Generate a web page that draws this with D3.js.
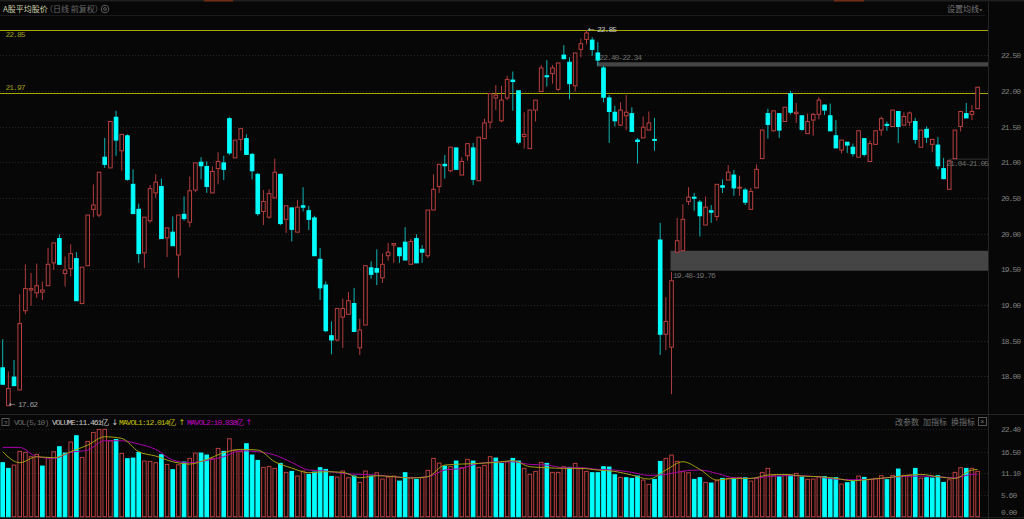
<!DOCTYPE html>
<html>
<head>
<meta charset="utf-8">
<script src="https://cdn.jsdelivr.net/npm/d3@7"></script>
<style>
html, body { margin: 0; padding: 0; background: #070707; overflow: hidden; }
text { font-family: "Liberation Mono", monospace; font-size: 8px; letter-spacing: -1px; }
.cjk { font-family: "Noto Sans CJK SC", sans-serif; font-size: 8px; letter-spacing: 0; }
.arrow { font-family: "DejaVu Sans", sans-serif; font-size: 8px; letter-spacing: 0; }
</style>
</head>
<body>
<div id="chart"></div>
<script>
var width = 1024;
var height = 519;

var opens = [
    18.12,17.59,17.99,17.81,18.92,19.21,19.17,19.18,19.27,19.59,
    19.93,19.44,19.51,19.65,19.02,19.55,20.34,20.26,21.07,20.92,
    21.63,21.16,21.37,20.69,20.34,19.73,20.18,20.57,20.66,19.94,
    20.02,19.70,20.27,20.16,20.61,21.00,20.94,20.57,20.91,20.99,
    21.61,21.06,21.32,21.33,21.11,20.83,20.31,20.23,20.50,20.83,
    20.20,20.36,20.02,20.39,20.32,20.22,19.64,19.28,18.57,18.51,
    18.83,18.87,19.02,18.40,18.72,19.52,19.51,19.38,19.69,19.84,
    19.80,19.88,19.57,19.93,19.78,19.69,20.33,20.66,20.97,20.88,
    21.20,20.82,21.09,21.20,20.74,21.33,21.56,21.90,21.58,21.90,
    22.15,22.00,21.36,21.19,21.73,21.99,22.21,22.24,22.02,22.50,
    22.40,22.07,22.58,22.72,22.71,22.53,22.32,21.90,21.70,21.52,
    21.65,21.68,21.31,21.34,21.45,21.32,19.91,18.59,18.41,19.74,
    19.76,20.45,20.51,20.44,20.12,20.32,20.24,20.67,20.75,20.82,
    20.64,20.61,20.34,20.64,21.05,21.68,21.44,21.68,21.57,21.96,
    21.68,21.65,21.40,21.59,21.67,21.80,21.65,21.37,21.17,21.28,
    21.21,21.07,21.33,21.01,21.25,21.45,21.53,21.50,21.71,21.52,
    21.56,21.57,21.21,21.46,21.25,21.24,20.91,20.62,21.05,21.50,
    21.68,21.67,21.75
];
var closes = [
    17.89,17.83,17.87,18.74,19.23,19.23,19.27,19.21,19.57,19.87,
    19.57,19.49,19.72,19.06,19.53,20.26,20.40,20.86,20.97,21.57,
    21.31,21.39,20.76,20.28,19.72,20.23,20.63,20.72,19.93,20.08,
    19.83,20.26,20.21,20.60,20.99,20.95,20.66,20.87,21.01,20.90,
    21.13,21.31,21.47,21.11,20.88,20.28,20.45,20.56,20.86,20.14,
    20.39,20.06,20.37,20.37,20.20,19.69,19.24,18.64,18.51,18.95,
    18.95,19.06,18.63,18.65,19.55,19.43,19.46,19.57,19.74,19.86,
    19.69,19.63,19.89,19.59,19.74,20.33,20.62,20.97,20.95,21.21,
    20.90,21.01,21.26,20.76,21.35,21.55,21.96,21.94,21.87,22.16,
    22.13,21.28,21.39,21.73,21.87,22.32,22.20,22.32,22.39,22.45,
    22.10,22.53,22.66,22.81,22.58,22.43,21.91,21.71,21.58,21.73,
    21.70,21.43,21.29,21.49,21.55,21.31,18.59,18.77,19.34,19.90,
    20.20,20.51,20.50,20.25,20.37,20.30,20.69,20.65,20.86,20.64,
    20.65,20.44,20.59,20.90,21.45,21.53,21.72,21.45,21.77,21.70,
    21.70,21.46,21.57,21.67,21.87,21.73,21.44,21.20,21.31,21.24,
    21.12,21.44,21.11,21.26,21.44,21.61,21.52,21.73,21.50,21.64,
    21.69,21.32,21.45,21.35,21.32,20.95,20.77,21.02,21.45,21.71,
    21.62,21.71,22.05
];
var highs = [
    18.52,18.07,18.23,19.15,19.57,19.45,19.58,19.33,19.80,19.87,
    19.99,19.68,19.85,19.74,19.53,20.26,20.69,20.86,21.34,21.57,
    21.72,21.39,21.39,20.90,20.42,20.23,20.68,20.83,20.77,20.08,
    20.24,20.26,20.52,20.80,20.99,21.07,21.01,20.94,21.14,21.09,
    21.63,21.31,21.47,21.39,21.13,20.85,20.61,20.62,21.05,20.84,
    20.39,20.36,20.47,20.65,20.39,20.25,19.80,19.33,18.77,18.95,
    19.09,19.18,19.24,18.81,19.55,19.61,19.78,19.72,19.87,19.86,
    19.80,20.09,19.92,19.99,19.84,20.33,20.83,20.97,21.10,21.21,
    21.20,21.07,21.26,21.27,21.35,21.61,21.96,22.08,22.07,22.21,
    22.27,22.00,21.70,21.73,21.87,22.36,22.43,22.36,22.39,22.64,
    22.47,22.53,22.73,22.85,22.75,22.68,22.35,21.94,21.79,21.84,
    21.94,21.77,21.34,21.64,21.71,21.62,20.15,19.11,19.46,20.22,
    20.41,20.65,20.57,20.47,20.52,20.40,20.69,20.76,20.96,20.89,
    20.81,20.64,20.64,20.97,21.45,21.75,21.72,21.68,21.77,22.00,
    21.83,21.65,21.68,21.69,21.91,21.81,21.82,21.59,21.31,21.28,
    21.26,21.44,21.33,21.30,21.44,21.64,21.57,21.73,21.71,21.70,
    21.71,21.62,21.45,21.50,21.32,21.35,21.06,21.02,21.45,21.72,
    21.83,21.80,22.05
];
var lows = [
    17.89,17.59,17.87,17.81,18.87,18.99,19.10,19.07,19.27,19.49,
    19.57,19.26,19.40,19.06,19.02,19.55,20.23,20.23,20.92,20.92,
    21.09,20.88,20.74,20.28,19.59,19.52,20.15,20.50,19.93,19.67,
    19.83,19.38,20.18,20.09,20.58,20.76,20.57,20.57,20.69,20.75,
    21.10,21.06,21.16,21.10,20.76,20.25,20.12,20.21,20.50,20.12,
    20.01,19.89,20.02,20.31,20.05,19.69,19.07,18.62,18.31,18.49,
    18.40,18.87,18.63,18.30,18.72,19.37,19.28,19.31,19.62,19.59,
    19.59,19.63,19.57,19.59,19.59,19.66,20.33,20.57,20.77,20.86,
    20.90,20.82,21.02,20.68,20.74,21.33,21.47,21.73,21.56,21.87,
    21.72,21.25,21.19,21.19,21.57,21.99,22.06,22.10,22.00,22.44,
    21.88,21.99,22.47,22.65,22.49,22.35,21.84,21.27,21.50,21.51,
    21.45,21.43,20.98,21.34,21.45,21.16,18.30,18.37,17.75,19.74,
    19.76,20.40,20.32,19.96,20.12,20.15,20.18,20.57,20.75,20.53,
    20.53,20.40,20.33,20.64,21.05,21.33,21.43,21.34,21.57,21.67,
    21.55,21.44,21.40,21.37,21.60,21.66,21.43,21.20,21.12,21.13,
    21.08,21.07,21.08,21.01,21.25,21.37,21.44,21.50,21.27,21.52,
    21.51,21.26,21.21,21.27,21.14,20.90,20.76,20.62,21.05,21.43,
    21.62,21.59,21.75
];

// volume in 亿
var volumes = [
    13.74,12.30,13.15,16.62,16.37,15.27,15.86,12.89,15.01,16.54,
    17.81,16.20,19.00,20.61,15.09,19.16,21.45,22.22,22.22,19.33,
    19.67,16.11,14.76,14.92,16.37,14.16,14.08,13.74,15.77,13.31,
    11.96,13.23,13.91,14.84,16.20,16.20,15.69,14.84,17.38,16.62,
    19.84,16.96,16.62,18.57,15.69,14.33,12.55,12.80,12.30,13.57,
    11.28,11.53,10.35,11.62,10.77,11.36,12.47,12.04,10.26,10.09,
    11.62,9.92,10.35,8.73,11.62,10.35,11.19,9.58,10.09,10.35,
    9.07,11.19,10.01,9.50,9.92,11.79,14.84,13.65,12.89,12.80,
    14.16,12.47,14.59,14.16,12.55,13.06,15.27,14.92,13.57,13.99,
    14.84,14.16,12.30,10.77,11.53,13.82,13.57,11.28,11.28,12.72,
    12.55,13.57,12.21,11.53,11.19,11.19,12.72,12.64,10.68,10.01,
    9.92,9.75,10.35,9.33,8.23,9.50,14.08,14.84,15.69,14.08,
    11.45,11.19,9.50,9.92,8.73,8.56,9.16,9.75,9.75,9.67,
    10.01,9.92,9.07,9.75,11.28,12.30,10.60,10.18,10.60,10.52,
    11.02,10.09,9.50,9.58,10.18,10.18,9.84,9.92,8.31,8.65,
    9.07,10.35,10.01,9.50,9.75,10.43,9.41,10.52,12.13,10.52,
    10.60,12.30,9.84,9.92,9.84,10.43,8.73,9.41,11.28,12.47,
    12.30,12.30,11.53
];
// 1 = cyan volume bar
var volDown = [
    1,1,0,0,0,0,0,1,0,0, 1,1,0,1,0,0,0,0,0,0,
    1,0,1,1,1,0,0,0,1,0, 1,0,1,0,0,1,1,0,0,1,
    0,0,0,1,1,1,0,0,0,1, 0,1,0,0,1,1,1,1,1,0,
    0,0,1,0,0,1,0,0,0,0, 1,1,0,1,0,0,0,0,1,0,
    1,0,0,1,0,0,0,1,1,0, 1,1,0,0,0,0,1,0,0,0,
    1,0,0,0,1,1,1,1,1,0, 1,1,1,0,0,1,1,0,0,0,
    0,0,1,1,0,1,0,1,0,1, 0,1,0,0,0,0,0,1,0,1,
    0,1,0,0,0,1,1,1,0,1, 1,0,1,0,0,0,1,0,1,0,
    0,1,0,1,1,1,1,0,0,0, 1,0,0
];

// moving average lines, read every third day plus the last one
var maDays = [
    0,3,6,9,12,15,18,21,24,27,30,33,36,39,42,45,48,51,54,57,
    60,63,66,69,72,75,78,81,84,87,90,93,96,99,102,105,108,111,114,117,
    120,123,126,129,132,135,138,141,144,147,150,153,156,159,162,165,168,171,172
];
var mavol1 = [
    16.54,13.74,15.27,15.01,16.54,18.23,20.35,19.93,16.54,15.43,
    13.99,13.40,14.59,16.28,17.13,16.96,13.99,12.38,11.19,11.45,
    11.28,9.92,10.43,10.18,9.84,10.18,13.14,13.40,13.57,13.82,
    14.25,12.72,12.47,12.30,12.30,11.87,11.53,10.60,9.58,11.87,
    13.99,12.04,9.33,9.75,9.75,10.60,10.77,10.35,10.18,9.75,
    9.16,9.50,9.92,10.43,10.77,10.18,9.75,11.87,12.01
];
var mavol2 = [
    17.64,17.64,15.27,14.84,16.37,16.96,19.33,19.33,18.49,17.13,
    14.42,13.74,14.33,15.27,16.79,16.54,15.69,13.82,11.87,11.62,
    11.02,10.77,10.60,10.18,9.92,10.18,11.87,12.30,13.57,13.91,
    13.99,13.31,13.14,12.47,12.47,12.04,11.87,11.28,10.52,10.77,
    11.62,11.87,11.02,9.92,9.75,10.18,10.43,10.43,10.09,9.58,
    9.41,9.50,9.92,10.26,10.35,10.18,9.92,10.77,10.84
];

var priceTicks = [18, 18.5, 19, 19.5, 20, 20.5, 21, 21.5, 22, 22.5];
var volTicks = [0, 5.6, 11.1, 16.5, 22.4];

// support / pressure lines and gaps
var levels = [22.85, 21.97];
var gapLows = [22.34, 19.48, 21.04];
var gapHighs = [22.40, 19.76, 21.05];
var gapStarts = [105, 118, 167];
var gapLabels = ["22.40-22.34", "19.48-19.76", "21.04-21.05"];

var plotRight = 988;

var x = d3.scaleLinear().domain([0, opens.length - 1]).range([2.7, 977.6]);
var y = d3.scaleLinear().domain([18, 22]).range([376.4, 90.8]);
var yVol = d3.scaleLinear().domain([0, 22.4]).range([516.7, 428.7]);

var svg = d3.select("#chart")
    .append("svg")
    .attr("width", width)
    .attr("height", height)
    .style("display", "block");

// top tab strip
svg.append("rect").attr("width", width).attr("height", 1.5).attr("fill", "#1f1f1f");
svg.selectAll("rect.tab").data([[204, 29], [834, 30]]).enter().append("rect")
    .attr("class", "tab")
    .attr("x", d => d[0]).attr("width", d => d[1])
    .attr("height", 1.5).attr("fill", "#6e2c12");

// frame lines
svg.append("line").attr("x1", 0).attr("x2", 985).attr("y1", 15.5).attr("y2", 15.5).attr("stroke", "#1b1b1b");
svg.append("line").attr("x1", 0).attr("x2", width).attr("y1", 414.5).attr("y2", 414.5).attr("stroke", "#242424");
svg.append("line").attr("x1", 0).attr("x2", width).attr("y1", 517.5).attr("y2", 517.5).attr("stroke", "#1e1e1e");
svg.append("line").attr("x1", plotRight + .5).attr("x2", plotRight + .5).attr("y1", 2).attr("y2", height).attr("stroke", "#242424");

// grid
svg.selectAll("line.grid").data(priceTicks).enter().append("line")
    .attr("class", "grid")
    .attr("x1", 0).attr("x2", plotRight)
    .attr("y1", d => Math.round(y(d)) + .5).attr("y2", d => Math.round(y(d)) + .5)
    .attr("stroke", "#262626").attr("stroke-dasharray", "1,2");
svg.selectAll("line.gridv").data(volTicks.slice(1)).enter().append("line")
    .attr("class", "gridv")
    .attr("x1", 0).attr("x2", plotRight)
    .attr("y1", d => Math.round(yVol(d)) + .5).attr("y2", d => Math.round(yVol(d)) + .5)
    .attr("stroke", "#222").attr("stroke-dasharray", "1,2");

// gaps
svg.selectAll("rect.gap").data(gapLows).enter().append("rect")
    .attr("class", "gap")
    .attr("x", (d, i) => x(gapStarts[i]) - 1)
    .attr("width", (d, i) => plotRight - x(gapStarts[i]) + 1)
    .attr("y", (d, i) => y(gapHighs[i]))
    .attr("height", (d, i) => Math.max(y(d) - y(gapHighs[i]), 1))
    .attr("fill", (d, i) => i == 2 ? "#333" : "#454545");

// levels
svg.selectAll("line.level").data(levels).enter().append("line")
    .attr("class", "level")
    .attr("x1", 0).attr("x2", plotRight)
    .attr("y1", d => Math.round(y(d)) + .5).attr("y2", d => Math.round(y(d)) + .5)
    .attr("stroke", "#a8a800");
svg.selectAll("text.level").data(levels).enter().append("text")
    .attr("class", "level")
    .attr("x", 5.5)
    .attr("y", (d, i) => i == 0 ? y(d) + 7 : y(d) - 3)
    .attr("fill", "#9c9c1e")
    .text(d => d3.format(".2f")(d));

// candles
var days = d3.range(opens.length);
var up = i => closes[i] >= opens[i];
var redLine = "#b83f3f";
var cyanWick = "#0cb4b4";

svg.append("g").selectAll("line").data(days).enter().append("line")
    .attr("x1", i => x(i)).attr("x2", i => x(i))
    .attr("y1", i => y(highs[i])).attr("y2", i => y(lows[i]))
    .attr("stroke", i => up(i) ? "#b03c3c" : cyanWick);

svg.append("g").selectAll("rect").data(days).enter().append("rect")
    .attr("x", i => x(i) - 1.8)
    .attr("width", 3.6)
    .attr("y", i => y(Math.max(opens[i], closes[i])))
    .attr("height", i => Math.max(Math.abs(y(opens[i]) - y(closes[i])), 1))
    .attr("fill", i => up(i) ? "#070707" : "#00ffff")
    .attr("stroke", i => up(i) ? redLine : "#00ffff");

// gap labels sit on top of the candles
svg.selectAll("text.gap").data(gapLabels).enter().append("text")
    .attr("class", "gap")
    .attr("x", (d, i) => i == 2 ? x(gapStarts[i]) - 3 : x(gapStarts[i]) + 1.5)
    .attr("y", (d, i) => i == 0 ? y(gapHighs[i]) - 2 : y(gapLows[i]) + 7)
    .attr("fill", "#6e6e6e")
    .text(d => d);

// volume bars
svg.append("g").selectAll("rect").data(volumes).enter().append("rect")
    .attr("x", (d, i) => x(i) - 1.8)
    .attr("width", 3.6)
    .attr("y", d => yVol(d))
    .attr("height", d => yVol(0) - yVol(d))
    .attr("fill", (d, i) => volDown[i] ? "#00ffff" : "none")
    .attr("stroke", (d, i) => volDown[i] ? "#00ffff" : redLine);

var maLine = d3.line().x(i => x(maDays[i])).curve(d3.curveMonotoneX);
svg.append("path")
    .attr("d", maLine.y(i => yVol(mavol2[i]))(d3.range(maDays.length)))
    .attr("fill", "none").attr("stroke", "#a800a8").attr("stroke-width", 1);
svg.append("path")
    .attr("d", maLine.y(i => yVol(mavol1[i]))(d3.range(maDays.length)))
    .attr("fill", "none").attr("stroke", "#a0a010").attr("stroke-width", 1);

// axes
var fmt = d3.format(".2f");
var axisPrice = svg.append("g")
    .attr("transform", "translate(" + (plotRight + 12) + ",0)")
    .call(d3.axisRight(y).tickValues(priceTicks).tickFormat(fmt).tickSize(0).tickPadding(1));
var axisVol = svg.append("g")
    .attr("transform", "translate(" + (plotRight + 12) + ",0)")
    .call(d3.axisRight(yVol).tickValues(volTicks).tickFormat(fmt).tickSize(0).tickPadding(1));
[axisPrice, axisVol].forEach(function(a) {
    a.select(".domain").remove();
    a.selectAll("text").attr("fill", "#7e7e7e").style("font-size", "8px")
        .style("font-family", '"Liberation Mono", monospace');
});
axisVol.selectAll(".tick").filter(d => d == 0).select("text").attr("y", -5);

// header
svg.append("text").attr("class", "cjk").attr("x", 3).attr("y", 12).attr("fill", "#cfcfa8").text("A股平均股价");
svg.append("text").attr("class", "cjk").attr("x", 45).attr("y", 12).attr("fill", "#6a6a6a").text("（日线 前复权）");
svg.append("circle").attr("cx", 105).attr("cy", 9).attr("r", 3.8).attr("fill", "none").attr("stroke", "#5a5a5a");
svg.append("circle").attr("cx", 105).attr("cy", 9).attr("r", 1.4).attr("fill", "none").attr("stroke", "#5a5a5a");
svg.append("text").attr("class", "cjk").attr("x", 947).attr("y", 12).attr("fill", "#777").text("设置均线");
svg.append("text").attr("x", 979).attr("y", 12).attr("fill", "#777").style("font-size", "6px").text("▾");

// extreme labels
svg.append("text").attr("class", "arrow").attr("x", 9).attr("y", y(d3.min(lows)) + 1).attr("fill", "#aaa").text("←");
svg.append("text").attr("x", 18).attr("y", y(d3.min(lows)) + 1).attr("fill", "#999").text("17.62");
svg.append("text").attr("class", "arrow").attr("x", x(103) + 1.5).attr("y", y(d3.max(highs)) + 2).attr("fill", "#bbb").text("←");
svg.append("text").attr("x", 597).attr("y", y(d3.max(highs)) + 2).attr("fill", "#c4c4c4").text("22.85");

// volume header
svg.append("rect").attr("x", 2).attr("y", 418.5).attr("width", 7).attr("height", 7).attr("fill", "none").attr("stroke", "#555");
svg.append("text").attr("x", 4).attr("y", 424.5).attr("fill", "#777").style("font-size", "6px").text("?");
var volHead = [
    { x: 14, t: "VOL(5,10)", c: "#6a6a6a", a: 0 },
    { x: 52, t: "VOLUME:11.461亿", c: "#c8c8c8", a: 0 },
    { x: 111.5, t: "↓", c: "#c8c8c8", a: 1 },
    { x: 119, t: "MAVOL1:12.014亿", c: "#c0c000", a: 0 },
    { x: 178.5, t: "↑", c: "#c0c000", a: 1 },
    { x: 187, t: "MAVOL2:10.838亿", c: "#c000c0", a: 0 },
    { x: 245.5, t: "↑", c: "#c000c0", a: 1 }
];
svg.selectAll("text.vh").data(volHead).enter().append("text")
    .attr("class", d => d.a ? "vh arrow" : "vh")
    .attr("x", d => d.x).attr("y", 424.5).attr("fill", d => d.c)
    .text(d => d.t);
var volBtns = [{ x: 895, t: "改参数" }, { x: 923, t: "加指标" }, { x: 951, t: "换指标" }];
svg.selectAll("text.btn").data(volBtns).enter().append("text")
    .attr("class", "btn cjk")
    .attr("x", d => d.x).attr("y", 424.5).attr("fill", "#6e6e6e")
    .text(d => d.t);
svg.append("rect").attr("x", 978.5).attr("y", 417.5).attr("width", 8).attr("height", 8).attr("fill", "none").attr("stroke", "#555");
svg.append("text").attr("x", 980.3).attr("y", 424).attr("fill", "#777").style("font-size", "7px").text("×");
</script>
</body>
</html>
